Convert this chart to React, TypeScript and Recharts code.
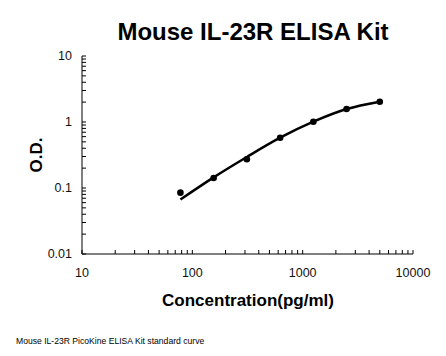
import React from 'react';
import { ComposedChart, Line, Scatter, XAxis, YAxis } from 'recharts';

const chartTitle = 'Mouse IL-23R ELISA Kit';
const xTitle = 'Concentration(pg/ml)';
const yTitle = 'O.D.';
const footnote = 'Mouse IL-23R PicoKine ELISA Kit standard curve';

// standards (pg/ml) and measured O.D.
const concentrations = [78, 156, 312, 625, 1250, 2500, 5000];
const odValues = [0.085, 0.142, 0.272, 0.578, 1.01, 1.57, 2.03];

// fitted curve at the standard concentrations
const curveConc = [78, 156, 312, 625, 1250, 2500, 5000];
const curveOd = [0.067, 0.145, 0.295, 0.578, 1.01, 1.57, 2.03];

const xMajorTicks = [10, 100, 1000, 10000];
const yMajorTicks = [0.01, 0.1, 1, 10];
const minorSteps = [1, 2, 3, 4, 5, 6, 7, 8, 9];

const buildTicks = (majors: number[]) => {
  const out: number[] = [];
  majors.forEach((m, i) => {
    if (i === majors.length - 1) {
      out.push(m);
      return;
    }
    minorSteps.forEach(s => out.push(+(m * s).toPrecision(6)));
  });
  return out;
};

const xTicks = buildTicks(xMajorTicks);
const yTicks = buildTicks(yMajorTicks);

const points = concentrations.map((c, i) => ({ conc: c, od: odValues[i] }));
const curve = curveConc.map((c, i) => ({ conc: c, od: curveOd[i] }));

const FONT = '"Liberation Sans", Arial, sans-serif';

const XTick: React.FC<any> = ({ x, y, payload }) => {
  const major = xMajorTicks.includes(payload.value);
  return (
    <g>
      <line x1={x} y1={y} x2={x} y2={y - 4} stroke="#000" strokeWidth={1} />
      {major && (
        <text x={x} y={y + 23} textAnchor="middle" fontSize={12.5} fontFamily={FONT} fill="#111">
          {payload.value}
        </text>
      )}
    </g>
  );
};

const YTick: React.FC<any> = ({ x, y, payload }) => {
  const major = yMajorTicks.includes(payload.value);
  return (
    <g>
      <line x1={x} y1={y} x2={x + 4} y2={y} stroke="#000" strokeWidth={1} />
      {major && (
        <text x={x - 10} y={y + 4} textAnchor="end" fontSize={12.5} fontFamily={FONT} fill="#111">
          {payload.value}
        </text>
      )}
    </g>
  );
};

const Dot: React.FC<any> = ({ cx, cy }) => <circle cx={cx} cy={cy} r={3.3} fill="#000" />;

export default function App() {
  return (
    <div style={{ position: 'absolute', left: 0, top: 0, width: 446, height: 356, background: '#fff' }}>
      <ComposedChart width={446} height={356} margin={{ top: 56, right: 33, left: 22, bottom: 42 }}>
        <XAxis
          dataKey="conc"
          type="number"
          scale="log"
          domain={[10, 10000]}
          allowDataOverflow
          ticks={xTicks}
          interval={0}
          tick={<XTick />}
          tickLine={false}
          tickSize={0}
          tickMargin={0}
          height={60}
          axisLine={{ stroke: '#000', strokeWidth: 1 }}
        />
        <YAxis
          dataKey="od"
          type="number"
          scale="log"
          domain={[0.01, 10]}
          allowDataOverflow
          ticks={yTicks}
          interval={0}
          tick={<YTick />}
          tickLine={false}
          tickSize={0}
          tickMargin={0}
          width={60}
          axisLine={{ stroke: '#000', strokeWidth: 1 }}
        />
        <Line
          data={curve}
          dataKey="od"
          type="monotone"
          stroke="#000"
          strokeWidth={2.5}
          dot={false}
          activeDot={false}
          isAnimationActive={false}
        />
        <Scatter data={points} dataKey="od" fill="#000" shape={<Dot />} isAnimationActive={false} />
      </ComposedChart>
      <svg
        width={446}
        height={356}
        style={{ position: 'absolute', left: 0, top: 0, pointerEvents: 'none' }}
      >
        <text x={253} y={40} textAnchor="middle" fontSize={24} fontWeight="bold" fontFamily={FONT} fill="#000">
          {chartTitle}
        </text>
        <text x={248} y={306} textAnchor="middle" fontSize={17} fontWeight="bold" fontFamily={FONT} fill="#000">
          {xTitle}
        </text>
        <text
          x={42}
          y={155}
          textAnchor="middle"
          fontSize={17}
          fontWeight="bold"
          fontFamily={FONT}
          fill="#000"
          transform="rotate(-90 42 155)"
        >
          {yTitle}
        </text>
        <text x={16} y={344} fontSize={8.6} fontFamily={FONT} fill="#000">
          {footnote}
        </text>
      </svg>
    </div>
  );
}
